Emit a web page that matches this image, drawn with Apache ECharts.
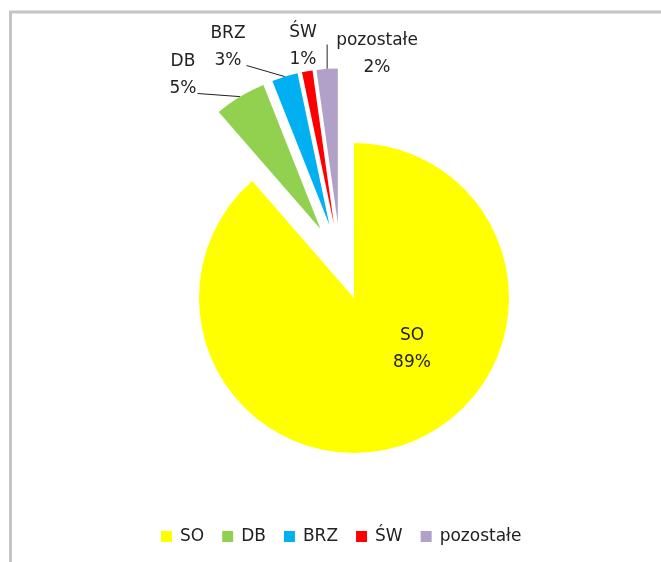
<!DOCTYPE html>
<html>
<head>
<meta charset="utf-8">
<script src="https://cdn.jsdelivr.net/npm/echarts@6/dist/echarts.min.js"></script>
<style>
  html, body { margin: 0; padding: 0; background: #fff; }
  #chart { width: 661px; height: 562px; }
</style>
</head>
<body>
<div id="chart"></div>
<script>
// udział poszczególnych grup (%)
var categories = ['SO', 'DB', 'BRZ', 'ŚW', 'pozostałe'];
var values = [88.6, 5.4, 2.7, 1.1, 2.2];
var colors = ['#ffff00', '#92d050', '#00b0f0', '#ff0000', '#b1a0c7'];

// układ wykresu
var pieCenter = [340.5, 261.9];
var pieRadius = 155;
var explode = 38.5;
// środki etykiet
var labelPos = [[412, 349], [183, 75], [228, 47], [303, 46], [377, 54]];

var total = values.reduce(function (a, b) { return a + b; }, 0);
var fontFamily = 'DejaVu Sans';

// każdy wycinek jest "wysunięty" wzdłuż swojej dwusiecznej
var acc = 0;
var series = categories.map(function (name, i) {
    var mid = (acc + values[i] / 2) / total * Math.PI * 2;
    acc += values[i];
    var dir = [Math.sin(mid), -Math.cos(mid)];
    var c = [pieCenter[0] + explode * dir[0], pieCenter[1] + explode * dir[1]];
    var arcMid = [c[0] + pieRadius * dir[0], c[1] + pieRadius * dir[1]];

    return {
        type: 'pie',
        name: name,
        center: c,
        radius: pieRadius,
        startAngle: 90,
        clockwise: true,
        silent: true,
        avoidLabelOverlap: false,
        emphasis: { disabled: true },
        itemStyle: { borderWidth: 0 },
        label: {
            show: false,
            formatter: function (p) {
                return p.name + '\n' + Math.round(p.percent) + '%';
            },
            fontFamily: fontFamily,
            fontSize: 17,
            lineHeight: 27,
            color: '#222'
        },
        labelLine: {
            show: false,
            lineStyle: { color: '#222', width: 1 }
        },
        labelLayout: function (params) {
            if (params.dataIndex !== i) return {};
            var p = labelPos[i];
            var w = params.labelRect.width, h = params.labelRect.height;
            var out = { x: p[0], y: p[1], align: 'center', verticalAlign: 'middle' };
            if (name === 'DB' || name === 'BRZ') {
                out.labelLinePoints = [arcMid, [p[0] + w / 2 + 1, p[1] + h / 4 + 5]];
            } else if (name === 'pozostałe') {
                out.labelLinePoints = [arcMid, [arcMid[0], p[1] - h / 4 + 4]];
            }
            return out;
        },
        data: categories.map(function (n, j) {
            return {
                name: n,
                value: values[j],
                itemStyle: { color: j === i ? colors[j] : 'rgba(0,0,0,0)' },
                label: { show: j === i, position: j === 0 ? 'inside' : 'outside' },
                labelLine: { show: j === i && j !== 0 && n !== 'ŚW' }
            };
        })
    };
});

var chart = echarts.init(document.getElementById('chart'));
var option = {
    backgroundColor: '#fff',
    animation: false,
    graphic: [{
        type: 'rect',
        shape: { x: 10.5, y: 12, width: 720, height: 620 },
        style: { fill: 'none', stroke: '#c4c4c4', lineWidth: 3 },
        silent: true
    }],
    legend: {
        data: categories.map(function (n, i) {
            return { name: n, itemStyle: { color: colors[i] } };
        }),
        left: 156,
        top: 523,
        itemWidth: 11,
        itemHeight: 11,
        itemGap: 18,
        icon: 'rect',
        selectedMode: false,
        textStyle: {
            fontFamily: fontFamily,
            fontSize: 17,
            color: '#222',
            padding: [0, 0, 0, 3]
        }
    },
    series: series
};
chart.setOption(option);
</script>
</body>
</html>
